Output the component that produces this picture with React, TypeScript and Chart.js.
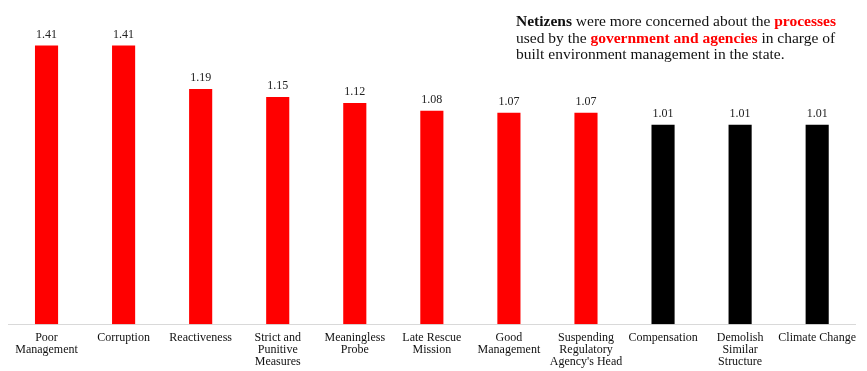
import React, { useEffect, useRef } from "react";
import { Chart, registerables } from "chart.js";

Chart.register(...registerables);

const categories: string[][] = [
  ["Poor", "Management"],
  ["Corruption"],
  ["Reactiveness"],
  ["Strict and", "Punitive", "Measures"],
  ["Meaningless", "Probe"],
  ["Late Rescue", "Mission"],
  ["Good", "Management"],
  ["Suspending", "Regulatory", "Agency's Head"],
  ["Compensation"],
  ["Demolish", "Similar", "Structure"],
  ["Climate Change"],
];
const values: number[] = [1.41, 1.41, 1.19, 1.15, 1.12, 1.08, 1.07, 1.07, 1.01, 1.01, 1.01];
const barColors: string[] = ["#ff0000", "#ff0000", "#ff0000", "#ff0000", "#ff0000", "#ff0000", "#ff0000", "#ff0000", "#000000", "#000000", "#000000"];

const FONT = "'Liberation Serif', 'DejaVu Serif', serif";

const valueLabels = {
  id: "valueLabels",
  afterDatasetsDraw(chart: any) {
    const ctx = chart.ctx;
    const meta = chart.getDatasetMeta(0);
    ctx.save();
    ctx.font = `12px ${FONT}`;
    ctx.fillStyle = "#222";
    ctx.textAlign = "center";
    ctx.textBaseline = "bottom";
    meta.data.forEach((bar: any, i: number) => {
      ctx.fillText(values[i].toFixed(2), bar.x, bar.y - 5);
    });
    ctx.restore();
  },
};

export default function App() {
  const ref = useRef<HTMLCanvasElement>(null);
  useEffect(() => {
    if (!ref.current) return;
    const chart = new Chart(ref.current, {
      type: "bar",
      data: {
        labels: categories,
        datasets: [
          {
            data: values,
            backgroundColor: barColors,
            categoryPercentage: 1,
            barPercentage: 0.3,
          },
        ],
      },
      options: {
        animation: false,
        responsive: false,
        layout: { padding: { left: 0, right: 0, top: 0, bottom: 0 } },
        plugins: { legend: { display: false }, tooltip: { enabled: false } },
        scales: {
          x: {
            grid: { display: false, drawTicks: false },
            border: { color: "#d9d9d9", width: 1 },
            ticks: {
              font: { family: FONT, size: 12, lineHeight: 1.02 },
              color: "#111",
              padding: 7,
              maxRotation: 0,
              autoSkip: false,
            },
          },
          y: {
            display: false,
            min: 0,
            max: 1.6,
          },
        },
      },
      plugins: [valueLabels],
    });
    return () => chart.destroy();
  }, []);

  const red = { color: "#ff0000", fontWeight: "bold" as const };
  return (
    <div style={{ position: "relative", width: 851, height: 363, overflow: "hidden" }}>
      <canvas ref={ref} width={855} height={367} style={{ display: "block" }} />
      <div
        style={{
          position: "absolute",
          left: 508,
          top: 5,
          fontFamily: FONT,
          fontSize: 15.5,
          lineHeight: "16.5px",
          color: "#111",
          whiteSpace: "nowrap",
        }}
      >
        <div>
          <b>Netizens</b> were more concerned about the <span style={red}>processes</span>
        </div>
        <div>
          used by the <span style={red}>government and agencies</span> in charge of
        </div>
        <div>built environment management in the state.</div>
      </div>
    </div>
  );
}
